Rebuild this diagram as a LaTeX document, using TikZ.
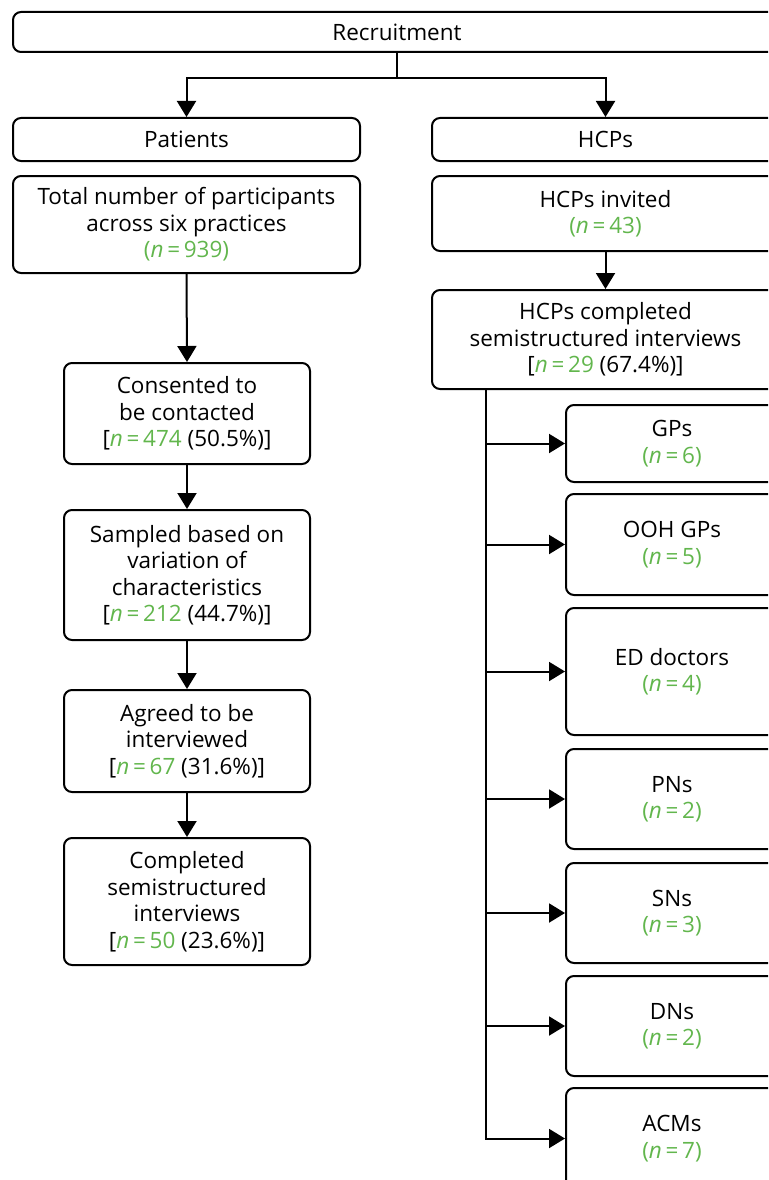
\documentclass[tikz,border=0pt]{standalone}
\usepackage{fontspec}
\setmainfont{Open Sans}
\usetikzlibrary{arrows.meta,positioning}
\definecolor{ngreen}{RGB}{98,182,77}
% n = value in green; \nvalp also colours the parentheses
\newcommand{\nval}[1]{{\color{ngreen}\textit{n}\,=\,#1}}
\newcommand{\nvalp}[1]{{\color{ngreen}(\textit{n}\,=\,#1)}}
\tikzset{
  box/.style={draw, line width=2pt, rounded corners=8pt, align=center,
    inner sep=0pt, font=\fontsize{22.5}{26.5}\selectfont},
  mbox/.style={box, execute at begin node={\rule{0pt}{23pt}}},
  arr/.style={line width=2pt, -{Triangle[length=16pt,width=19pt]}},
  ln/.style={line width=2pt},
}
\begin{document}
\begin{tikzpicture}[x=1pt,y=-1pt]
\useasboundingbox (0,0) rectangle (768,1180);
\clip (0,0) rectangle (768,1180);
% top level
\node[box, minimum width=768, minimum height=40] (rec) at (397,32) {Recruitment};
\node[box, minimum width=347, minimum height=43] (pat) at (186.5,139.5) {Patients};
\node[box, minimum width=347, minimum height=43] (hcp) at (605.5,139.5) {HCPs};
% patients column
\node[mbox, minimum width=347, minimum height=97] (tot) at (186.5,224.5)
  {Total number of participants\\across six practices\\\nvalp{939}};
\node[mbox, minimum width=246, minimum height=101] (con) at (187,413.5)
  {Consented to\\be contacted\\{[}\nval{474} (50.5\%)]};
\node[mbox, minimum width=246, minimum height=130] (sam) at (187,575)
  {Sampled based on\\variation of\\characteristics\\{[}\nval{212} (44.7\%)]};
\node[mbox, minimum width=246, minimum height=102] (agr) at (187,741)
  {Agreed to be\\interviewed\\{[}\nval{67} (31.6\%)]};
\node[mbox, minimum width=246, minimum height=127] (com) at (187,901.5)
  {Completed\\semistructured\\interviews\\{[}\nval{50} (23.6\%)]};
% HCP column
\node[mbox, minimum width=347, minimum height=75] (inv) at (605.5,213.5)
  {HCPs invited\\\nvalp{43}};
\node[mbox, minimum width=347, minimum height=99] (hcc) at (605.5,339.5)
  {HCPs completed\\semistructured interviews\\{[}\nval{29} (67.4\%)]};
\node[mbox, minimum width=212, minimum height=77] (gp) at (672,443.5) {GPs\\\nvalp{6}};
\node[mbox, minimum width=212, minimum height=101] (ooh) at (672,544.5) {OOH GPs\\\nvalp{5}};
\node[mbox, minimum width=212, minimum height=127] (ed) at (672,671.5) {ED doctors\\\nvalp{4}};
\node[mbox, minimum width=212, minimum height=100] (pn) at (672,799) {PNs\\\nvalp{2}};
\node[mbox, minimum width=212, minimum height=100] (sn) at (672,913) {SNs\\\nvalp{3}};
\node[mbox, minimum width=212, minimum height=100] (dn) at (672,1026) {DNs\\\nvalp{2}};
\node[mbox, minimum width=212, minimum height=101] (acm) at (672,1138.5) {ACMs\\\nvalp{7}};
% connectors
\coordinate (split) at (397,78);
\draw[ln] (rec.south) -- (split);
\draw[arr] (split) -| (pat.north);
\draw[arr] (split) -| (hcp.north);
\draw[arr] (tot.south) -- (con.north);
\draw[arr] (con.south) -- (sam.north);
\draw[arr] (sam.south) -- (agr.north);
\draw[arr] (agr.south) -- (com.north);
\draw[arr] (inv.south) -- (hcc.north);
\coordinate (trunk) at (486,389);
\foreach \b in {gp,ooh,ed,pn,sn,dn,acm}
  \draw[arr] (trunk) |- (\b.west);
\end{tikzpicture}
\end{document}
